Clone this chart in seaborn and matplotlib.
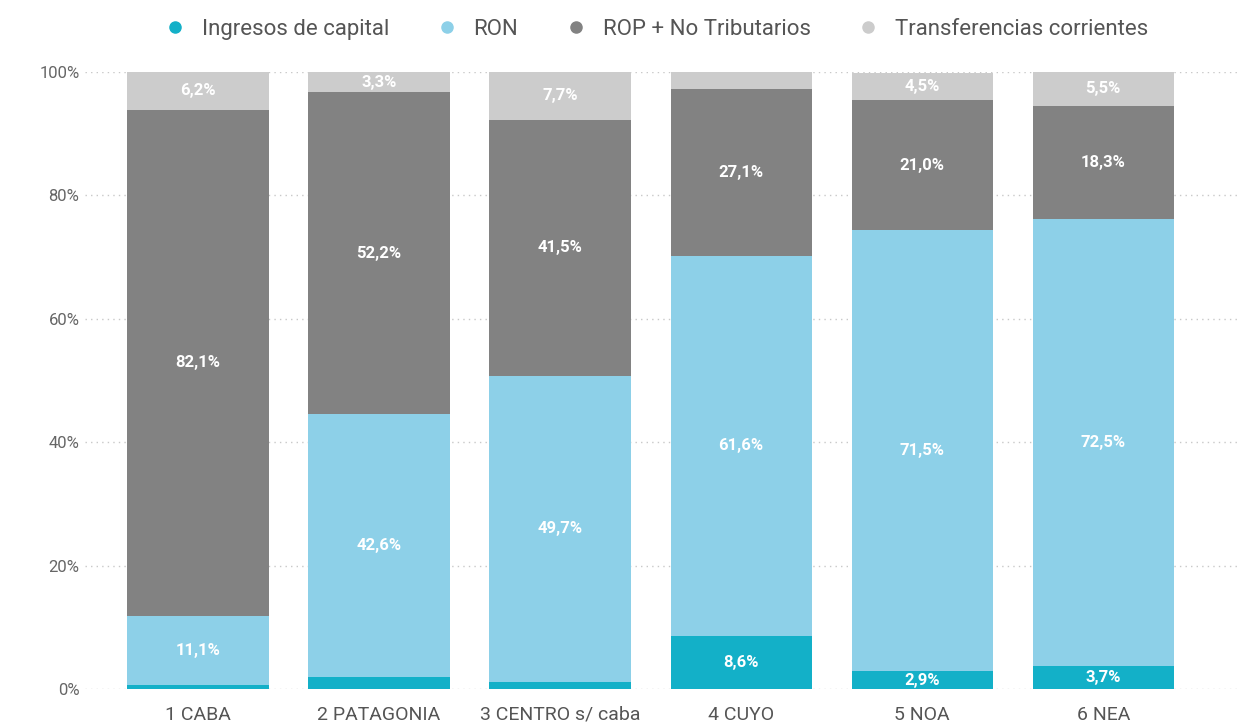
import pandas as pd
import matplotlib.pyplot as plt
import seaborn as sns
from matplotlib.lines import Line2D
from matplotlib.ticker import FuncFormatter

sns.set_style('white')
plt.rcParams['font.family'] = ['Roboto', 'DejaVu Sans']

# datos (% de ingresos por región)
regiones = ['1 CABA', '2 PATAGONIA', '3 CENTRO s/ caba', '4 CUYO', '5 NOA', '6 NEA']
capital = [0.7, 1.9, 1.1, 8.6, 2.9, 3.7]
ron = [11.1, 42.6, 49.7, 61.6, 71.5, 72.5]
rop = [82.1, 52.2, 41.5, 27.1, 21.0, 18.3]
transf = [6.2, 3.3, 7.7, 2.7, 4.5, 5.5]

series = ['Ingresos de capital', 'RON', 'ROP + No Tributarios', 'Transferencias corrientes']
valores = [capital, ron, rop, transf]
colores = ['#13b0c8', '#8dd0e8', '#828282', '#cccccc']

fig = plt.figure(figsize=(12.39, 7.27), dpi=100)
ax = fig.add_axes([85 / 1239, 1 - 689 / 727, 1 - 85 / 1239, 617 / 727])

base = [0.0] * len(regiones)
for nombre, vals, col in zip(series, valores, colores):
    df = pd.DataFrame({'region': regiones, 'valor': vals})
    sns.barplot(data=df, x='region', y='valor', color=col, bottom=base,
                width=0.78, ax=ax, saturation=1, errorbar=None, linewidth=0)
    for i, v in enumerate(vals):
        if v >= 2.8:
            ax.text(i, base[i] + v / 2, f'{v:.1f}%'.replace('.', ','),
                    ha='center', va='center', color='white',
                    fontsize=12, fontweight='bold')
    base = [b + v for b, v in zip(base, vals)]

ax.set_ylim(0, 100)
ax.set_xlim(-0.624, 5.75)
ax.set_yticks([0, 20, 40, 60, 80, 100])
ax.yaxis.set_major_formatter(FuncFormatter(lambda v, p: f'{v:.0f}%'))
ax.grid(axis='y', linestyle=(0, (1, 3)), color='#c8c8c8', linewidth=1)
ax.set_axisbelow(True)
for s in ax.spines.values():
    s.set_visible(False)
ax.set_xlabel('')
ax.set_ylabel('')
ax.tick_params(axis='y', labelsize=12, labelcolor='#666666', length=0, pad=4)
ax.tick_params(axis='x', labelsize=14, labelcolor='#555555', length=0, pad=12)

handles = [Line2D([], [], marker='o', linestyle='', color=c, markersize=8) for c in colores]
fig.legend(handles, series, loc='center', bbox_to_anchor=(0.525, 0.96), ncol=4,
           frameon=False, fontsize=16, labelcolor='#555555', handletextpad=0.2,
           columnspacing=1.6)

fig.savefig('out.png', dpi=100)
